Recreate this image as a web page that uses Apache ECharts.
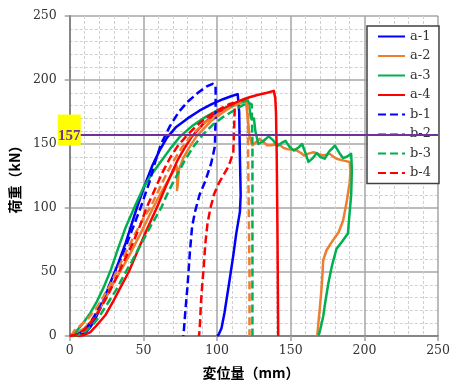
<!DOCTYPE html>
<html><head><meta charset="utf-8">
<script src="https://cdn.jsdelivr.net/npm/echarts@6/dist/echarts.min.js"></script>
<style>html,body{margin:0;padding:0;background:#fff}#c{width:453px;height:385px}</style>
</head><body><div id="c"></div>
<script>
// ---- data ----
const seriesNames = ['a-1','a-2','a-3','a-4','b-1','b-2','b-3','b-4'];
const xTickValues = [0,50,100,150,200,250];
const yTickValues = [0,50,100,150,200,250];
const refLoad = 157;

const a1 = [[6,0],[10,2],[14,7],[18,15],[23,28],[28,43],[33,57],[38,73],[45.5,100],[51,118],[56,133],[61,145],[66,155],[72,163],[80,170],[88,176],[96,181],[104,185],[110,187.5],[114,189],[115,175],[115.5,140],[116,110],[115.5,97],[113,80],[111,63],[108,40],[105,18],[103,6],[101,1],[100,0]];
const a2 = [[0,0],[4,2],[10,6],[14,11],[18,17],[22,25],[26,33],[30,42],[33,48],[40,62],[48,80],[56.5,100],[62,112],[67,122],[71,130],[72.5,133],[73,126],[72.8,114],[73.3,118],[74,130],[77,139],[81,147],[86,156],[91,162],[96,168],[102,173],[108,178],[113,181],[116,183.5],[119,185.5],[120,179],[121,168],[122,156],[124,149],[126,151],[129,154],[132,151],[134,149],[137,149],[142,150],[145,147],[147.7,146],[151,145.5],[154,145],[157,143],[159,141],[162,142.5],[165.5,143.6],[169,142],[172,141],[176.5,142.3],[179,140],[181,138.5],[186,137],[190,136],[191,135],[190.5,128],[190,120],[188,105],[185.5,90],[182.5,81],[180,77],[177,72],[174.3,67],[172,59],[171.5,48],[171,38.5],[170,25],[169,13],[168.3,4],[168,0]];
const a3 = [[0,0],[4,3],[9,10],[14,18],[18,26],[23,38],[28,52],[33,69],[38,85],[43.7,100],[50,116],[56,127],[61,135],[68,146],[75,156],[83,164],[92,171],[100,176],[107,179],[113,181],[118,183],[121,184],[122,178],[123,170],[125,170],[126,160],[128,150],[131,152],[135,156],[138,153],[141,148.5],[144,151],[146.5,152.5],[149,148],[152,145],[155,147],[157.7,150],[160,143],[162,136],[165,139],[167.7,143],[170,140],[173,138.5],[176,144],[180,148.7],[183,143],[185.5,139],[188,140],[191,142.3],[191.5,130],[191,110],[189.5,90],[188.8,80],[185,74],[181,68],[178,55],[175.5,41],[173.5,27],[172,15],[170,5],[168.8,0]];
const a4 = [[0,0],[5,0],[9,0.5],[14,3],[18,8],[24,16],[29,26],[34,37],[40,50],[47,69],[53,85],[59,100],[66,119],[73,137],[78,147],[83,156],[90,165],[97,172],[104,177],[110,181],[116,184],[122,186.5],[128,188.5],[134,190],[138.5,191.5],[139.5,186],[140,174],[140.5,140],[141,80],[141.5,0]];
const b1 = [[3,0],[8,3],[12,7],[17,16],[23,30],[28,42],[33,55],[40,76],[48,100],[54,120],[58,136],[62,150],[68,164],[74,175],[80,183],[87,190],[93,195],[97,197],[99,196],[99,170],[98.5,148],[96,135],[92,121],[88,110],[85,97],[83,85],[81.5,65],[80,40],[78.5,20],[77.5,5],[77,0]];
const b2 = [[1,0],[3,4],[7,8],[12,13],[17,20],[22,29],[27,39],[32,51],[38,65],[44,79],[50,92],[54.5,100],[60,113],[65,125],[70,136],[76,147],[82,156],[89,164],[96,170],[103,175],[110,179],[116,182],[119,183],[121,180],[121,150],[121.5,100],[122,50],[122,0]];
const b3 = [[2,0],[6,1],[10,3],[15,8],[20,15],[26,26],[32,37],[37,48],[42,58],[48,71],[55,86],[62,100],[67,113],[72,124],[78,137],[84,148],[90,157],[97,165],[104,171],[111,176],[117,180],[121,182.5],[123.5,181],[124,150],[124,100],[124,50],[124,0]];
const b4 = [[0,0],[4,1],[9,4],[14,10],[19,18],[25,30],[31,44],[37,59],[43,73],[48,87],[52,100],[58,115],[63,128],[68,139],[73,148],[79,156],[85,163],[91,169],[97,174],[103,178],[108,181],[111,182],[112,179],[111.5,160],[111,143.6],[108,133],[104,125],[101,119],[98,111],[95.5,100],[93.5,88],[92,72],[91,55],[90,41],[89,25],[88.5,12],[88,3],[87.7,0]];
const seriesData = [a1,a2,a3,a4,b1,b2,b3,b4];

// ---- styles ----
const colors = ['#0000FF','#ED7D31','#00B050','#FF0000','#0000FF','#ED7D31','#00B050','#FF0000'];
const dashed = [false,false,false,false,true,true,true,true];
const serif = 'DejaVu Serif';
const cjk = "'Noto Sans CJK JP'";

const chart = echarts.init(document.getElementById('c'), null, {renderer:'canvas'});
const series = seriesData.map((d,i)=>({
  name: seriesNames[i], type:'line', data:d, symbol:'none', smooth:false,
  lineStyle:{color:colors[i], width:2.5, type: dashed[i]?[8,4]:'solid', join:'round'},
  itemStyle:{color:colors[i]}, z: 3
}));
series.push({
  name:'ref', type:'line', data:[[xTickValues[0],refLoad],[xTickValues[xTickValues.length-1],refLoad]],
  symbol:'none', lineStyle:{color:'#7030A0', width:2}, z:4, silent:true
});
const axisCommon = {
  type:'value', min:0, max:250, interval:50,
  axisLine:{show:true, onZero:false, lineStyle:{color:'#868686', width:2}},
  axisTick:{show:true, inside:false, length:5, lineStyle:{color:'#A0A0A0', width:1.5}},
  splitLine:{show:true, lineStyle:{color:'#A6A6A6', width:1.5}},
  minorTick:{show:true, splitNumber:5, length:0},
  minorSplitLine:{show:true, lineStyle:{color:'#D0D0D0', width:1, type:[3,2]}},
  axisLabel:{fontFamily:serif, fontSize:12.5, color:'#333'}
};
chart.setOption({
  animation:false,
  backgroundColor:'#fff',
  grid:{left:68, right:11, top:16, bottom:45, containLabel:false},
  xAxis:Object.assign({}, axisCommon, {
    name:'変位量（mm）', nameLocation:'middle', nameGap:30,
    nameTextStyle:{fontFamily:cjk, fontWeight:'bold', fontSize:14, color:'#000', padding:[0,6,0,0]},
    axisLabel:Object.assign({}, axisCommon.axisLabel, {margin:8})
  }),
  yAxis:Object.assign({}, axisCommon, {
    name:'荷重（kN）', nameLocation:'middle', nameGap:43,
    nameTextStyle:{fontFamily:cjk, fontWeight:'bold', fontSize:14, color:'#000'},
    axisLabel:Object.assign({}, axisCommon.axisLabel, {margin:13})
  }),
  legend:{
    data:seriesNames, orient:'vertical', left:367, top:26,
    itemWidth:27, itemHeight:12, itemGap:6.5, padding:[4,8,4,10],
    borderColor:'#404040', borderWidth:1.5, backgroundColor:'#fff',
    textStyle:{fontFamily:serif, fontSize:13, color:'#333'}, itemStyle:{opacity:0}
  },
  series: series
});
const p = chart.convertToPixel({gridIndex:0}, [xTickValues[0], refLoad]);
chart.setOption({graphic:[
  {type:'rect', shape:{x:p[0]-12, y:p[1]-20.5, width:23, height:31}, style:{fill:'#FFFF00'}, z:10},
  {type:'text', x:p[0]-0.5, y:p[1]+1, style:{text:String(refLoad), fill:'#7030A0', font:'bold 15px "Liberation Serif"', align:'center', verticalAlign:'middle'}, z:11}
]});
</script></body></html>
